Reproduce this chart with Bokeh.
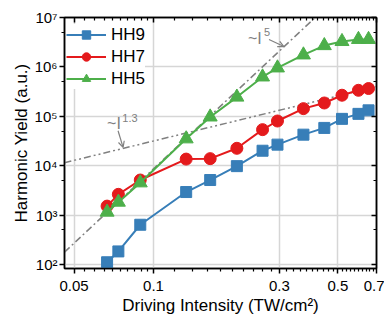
from bokeh.plotting import figure
from bokeh.models import LogAxis, FixedTicker, Label, Arrow, OpenHead
from bokeh.embed import file_html
from bokeh.resources import INLINE

# ---- data ----
intensity = [0.0667, 0.0736, 0.0891, 0.133, 0.164, 0.207, 0.259, 0.295, 0.370, 0.444, 0.518, 0.598, 0.653]
hh9 = [111, 184, 638, 2930, 5130, 9800, 20100, 26700, 42500, 58200, 88700, 112000, 132000]
hh7 = [1520, 2630, 5130, 13600, 13900, 22500, 53700, 80300, 143000, 186000, 267000, 336000, 365000]
hh5 = [1150, 1830, 4500, 35000, 97000, 245000, 627000, 955000, 1750000, 2700000, 3270000, 3600000, 3600000]

# guide lines (power-law scalings)
i13_x = [0.046, 0.7]
i13_y = [11500, 400000]
i5_x = [0.046, 0.41]
i5_y = [178, 1.0e7]

x_ticks = [0.05, 0.1, 0.3, 0.5, 0.7]
x_tick_labels = ["0.05", "0.1", "0.3", "0.5", "0.7"]
y_ticks = [1e2, 1e3, 1e4, 1e5, 1e6, 1e7]
y_tick_labels = ["10\u00b2", "10\u00b3", "10\u2074", "10\u2075", "10\u2076", "10\u2077"]

FONT = "Liberation Sans"
GRAY = "#808080"
BLUE, RED, GREEN = "#377eb8", "#e41a1c", "#4daf4a"

x_minor = ([round(0.05 + 0.005 * k, 3) for k in range(1, 10)]
           + [round(0.1 + 0.02 * k, 3) for k in range(1, 10)]
           + [round(0.3 + 0.02 * k, 3) for k in range(1, 10)]
           + [round(0.5 + 0.02 * k, 3) for k in range(1, 10)])
y_minor = [5e2, 5e3, 5e4, 5e5, 5e6]

xt = FixedTicker(ticks=x_ticks, minor_ticks=x_minor)
yt = FixedTicker(ticks=y_ticks, minor_ticks=y_minor)

p = figure(width=384, height=318, x_axis_type="log", y_axis_type="log",
           x_range=(0.046, 0.7), y_range=(83, 1e7),
           output_backend="svg", toolbar_location=None,
           min_border_left=64, min_border_right=8, min_border_top=17, min_border_bottom=50)

p.outline_line_color = "black"
p.outline_line_width = 1.5

def style_axis(ax, inward):
    ax.axis_line_width = 1.5
    ax.axis_line_color = "black"
    ax.major_tick_line_width = 1.5
    ax.minor_tick_line_width = 1.2
    ax.major_tick_line_color = "black"
    ax.minor_tick_line_color = "black"
    if inward:
        ax.major_tick_in, ax.major_tick_out = 5, 0
        ax.minor_tick_in, ax.minor_tick_out = 3, 0
    else:
        ax.major_tick_in, ax.major_tick_out = 0, 5
        ax.minor_tick_in, ax.minor_tick_out = 0, 3

xa = p.xaxis[0]
ya = p.yaxis[0]
xa.ticker = xt
ya.ticker = yt
style_axis(xa, False)
style_axis(ya, False)
xa.major_label_overrides = dict(zip(x_ticks, x_tick_labels))
ya.major_label_overrides = dict(zip(y_ticks, y_tick_labels))
for ax in (xa, ya):
    ax.major_label_text_font = FONT
    ax.major_label_text_font_size = "15px"
    ax.major_label_text_color = "black"
    ax.axis_label_text_font = FONT
    ax.axis_label_text_font_size = "17px"
    ax.axis_label_text_font_style = "normal"
    ax.axis_label_text_color = "black"
xa.axis_label = "Driving Intensity (TW/cm\u00b2)"
ya.axis_label = "Harmonic Yield (a.u.)"
xa.major_label_standoff = 7
xa.axis_label_standoff = 2
ya.major_label_standoff = 2
ya.axis_label_standoff = 0

top = LogAxis(ticker=xt)
right = LogAxis(ticker=yt)
for ax in (top, right):
    style_axis(ax, True)
    ax.major_label_text_font_size = "2px"
    ax.major_label_text_color = None
    ax.major_label_standoff = 0
p.add_layout(top, "above")
p.add_layout(right, "right")

p.xgrid.ticker = xt
p.ygrid.ticker = yt
p.grid.grid_line_color = "#d6d6d6"
p.grid.grid_line_width = 1.5

# guide lines
p.line(i13_x, i13_y, line_color=GRAY, line_width=1.5, line_dash="7 3 2 3 2 3")
p.line(i5_x, i5_y, line_color=GRAY, line_width=1.5, line_dash="7 3 2 3")

# data series
p.line(intensity, hh9, line_color=BLUE, line_width=2, legend_label="HH9")
p.scatter(intensity, hh9, marker="square", size=11, fill_color=BLUE, line_color=BLUE, legend_label="HH9")
p.line(intensity, hh7, line_color=RED, line_width=2, legend_label="HH7")
p.scatter(intensity, hh7, marker="circle", size=12, fill_color=RED, line_color=RED, legend_label="HH7")
p.line(intensity, hh5, line_color=GREEN, line_width=2, legend_label="HH5")
p.scatter(intensity, hh5, marker="triangle", size=14, fill_color=GREEN, line_color=GREEN, legend_label="HH5")

# annotations
p.add_layout(Label(x=0.228, y=3.75e6, text="~I", text_font=FONT, text_font_size="16px",
                   text_color=GRAY, text_baseline="middle"))
p.add_layout(Label(x=0.262, y=5.0e6, text="5", text_font=FONT, text_font_size="11px",
                   text_color=GRAY, text_baseline="middle"))
p.add_layout(Arrow(end=OpenHead(size=6, line_color=GRAY, line_width=1.2),
                   x_start=0.274, y_start=3.58e6, x_end=0.312, y_end=2.58e6,
                   line_color=GRAY, line_width=1.2))
p.add_layout(Label(x=0.0667, y=7.1e4, text="~I", text_font=FONT, text_font_size="16px",
                   text_color=GRAY, text_baseline="middle"))
p.add_layout(Label(x=0.0762, y=9.4e4, text="1.3", text_font=FONT, text_font_size="11px",
                   text_color=GRAY, text_baseline="middle"))
p.add_layout(Arrow(end=OpenHead(size=6, line_color=GRAY, line_width=1.2),
                   x_start=0.0734, y_start=5.1e4, x_end=0.0767, y_end=2.35e4,
                   line_color=GRAY, line_width=1.2))

leg = p.legend[0]
leg.location = (2, 179)
leg.margin = 0
leg.padding = 4
leg.spacing = 1
leg.glyph_width = 40
leg.glyph_height = 21
leg.label_height = 21
leg.label_standoff = 5
leg.label_text_font = FONT
leg.label_text_font_size = "17px"
leg.label_text_color = "black"
leg.border_line_color = None
leg.background_fill_color = "white"
leg.background_fill_alpha = 1.0

open("out.html", "w").write(file_html(p, INLINE))
